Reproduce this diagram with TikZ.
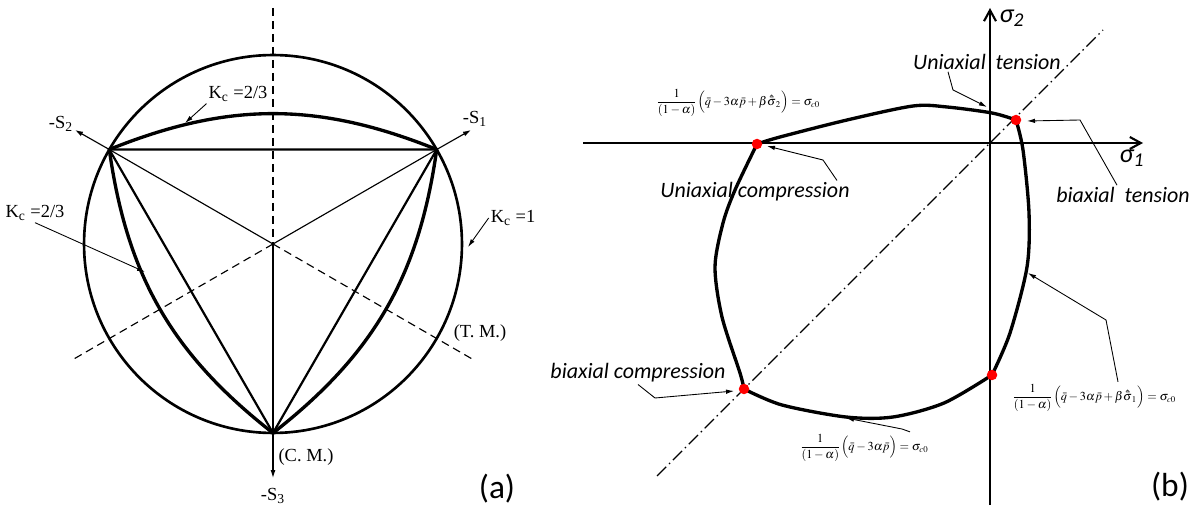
\documentclass[tikz,border=0pt]{standalone}
\usepackage{mathptmx}
\usepackage{fontspec}
\setmainfont{Liberation Serif}
\newfontfamily\carlito{Carlito}
\usetikzlibrary{arrows.meta}
\tikzset{
  rim/.style={line width=1.5pt},
  kcarc/.style={line width=1.9pt},
  edge/.style={line width=1.25pt},
  ray/.style={line width=0.65pt},
  hidden/.style={line width=0.65pt,dash pattern=on 1.6mm off 1mm},
  lead/.style={line width=0.5pt,-{Latex[length=1.6mm,width=0.9mm]}},
  lbl/.style={font=\fontsize{10.5}{12}\selectfont,inner sep=1pt},
  tag/.style={font=\carlito\itshape\fontsize{12.5}{14}\selectfont,inner sep=1pt},
  eqn/.style={font=\scriptsize,inner sep=1pt},
  panel/.style={font=\carlito\fontsize{19}{20}\selectfont,inner sep=0pt},
  yield/.style={line width=1.9pt,line join=round,line cap=round},
  reddot/.style={circle,fill=red,inner sep=0pt,minimum size=2.1mm},
  axis/.style={line width=1.2pt,-{Straight Barb[length=2.2mm,width=2.4mm]}},
  diag/.style={line width=0.75pt,dash pattern=on 2.6mm off 0.8mm on 0.3mm off 0.8mm}
}

\begin{document}
\begin{tikzpicture}[x=0.02cm,y=-0.02cm]
\useasboundingbox (0,0) rectangle (1202,509);
% (a) deviatoric section
\coordinate (o) at (273,244);
\coordinate (s1) at (436.7,149.5);
\coordinate (s2) at (109.3,149.5);
\coordinate (s3) at (273,433);
\coordinate (dtop) at (273,8);
\coordinate (dleft) at (74.7,358.5);
\coordinate (dright) at (471.3,358.5);
\coordinate (t1) at (471,130);
\coordinate (t2) at (75,130);
\coordinate (t3) at (273,478);
\draw[rim] (o) circle[radius=3.78cm];
\draw[hidden] (dtop) -- (o);
\draw[hidden] (o) -- (dleft);
\draw[hidden] (o) -- (dright);
\draw[ray] (o) -- (s1);
\draw[ray] (o) -- (s2);
\draw[ray] (o) -- (s3);
\draw[edge] (s2) -- (s1) -- (s3) -- cycle;
\draw[kcarc] (s1) to[bend right=22] (s2) to[bend right=22] (s3) to[bend right=22] (s1);
\draw[ray,-{Latex[length=1.6mm,width=1mm]}] (s1) -- (t1);
\draw[ray,-{Latex[length=1.6mm,width=1mm]}] (s2) -- (t2);
\draw[ray,-{Latex[length=1.6mm,width=1mm]}] (s3) -- (t3);
\node[lbl] (ms1) at (475,119) {-S\textsubscript{1}};
\node[lbl] (ms2) at (61,124) {-S\textsubscript{2}};
\node[lbl] (ms3) at (273,496) {-S\textsubscript{3}};
\node[lbl] (cm) at (306,457) {(C. M.)};
\node[lbl] (tm) at (480,333) {(T. M.)};
\node[lbl] (kct) at (238,94) {K\textsubscript{c} =2/3};
\node[lbl] (kcl) at (35,213) {K\textsubscript{c} =2/3};
\node[lbl] (kcr) at (513,218) {K\textsubscript{c} =1};
\coordinate (akt) at (185,123);
\coordinate (akl) at (145,272);
\coordinate (akr) at (468,247);
\draw[lead] (kct.south west) -- (akt);
\draw[lead] (kcl.south) -- (akl);
\draw[lead] (kcr.west) -- (akr);
\node[panel] (capa) at (497,489) {(a)};
% (b) principal stress plane
\coordinate (xl) at (583,143);
\coordinate (xr) at (1143,143);
\coordinate (yb) at (990,505);
\coordinate (yt) at (990,8);
\coordinate (dl) at (657,476);
\coordinate (dr) at (1103,30);
\draw[axis] (xl) -- (xr);
\draw[axis] (yb) -- (yt);
\draw[diag] (dl) -- (dr);
\draw[yield] plot[smooth] coordinates {(757,144) (780,137) (847,120) (913,106) (947,107) (992,113) (1016,120)};
\draw[yield] plot[smooth] coordinates {(1016,120) (1023,150) (1029,213) (1027,267) (1010,333) (992,375)};
\draw[yield] plot[smooth] coordinates {(744,389) (782,405) (846,417) (893,417) (944,403) (992,375)};
\draw[yield] plot[smooth] coordinates {(744,389) (740,373) (722,317) (715,267) (723,223) (735,190) (757,144)};
\node[reddot] (puc) at (757,144) {};
\node[reddot] (pbt) at (1016,120) {};
\node[reddot] (pbc) at (744,389) {};
\node[reddot] (puc2) at (992,375) {};
\node[font=\carlito\itshape\fontsize{15}{16}\selectfont] (sig2) at (1012,18) {σ\textsubscript{2}};
\node[font=\carlito\itshape\fontsize{15}{16}\selectfont] (sig1) at (1132,158) {σ\textsubscript{1}};
\node[tag] (ut) at (987,62) {Uniaxial\ \ tension};
\node[tag] (bt) at (1123,195) {biaxial\ \ tension};
\node[tag] (uc) at (755,192) {Uniaxial compression};
\node[tag] (bc) at (638,373) {biaxial compression};
\node[eqn] (eq2) at (738,103) {$\displaystyle\frac{1}{(1-\alpha)}\Bigl(\bar q-3\alpha\bar p+\beta\hat{\bar\sigma}_2\Bigr)=\sigma_{c0}$};
\node[eqn] (eq1) at (1094,398) {$\displaystyle\frac{1}{(1-\alpha)}\Bigl(\bar q-3\alpha\bar p+\beta\hat{\bar\sigma}_1\Bigr)=\sigma_{c0}$};
\node[eqn] (eq0) at (864,448) {$\displaystyle\frac{1}{(1-\alpha)}\Bigl(\bar q-3\alpha\bar p\Bigr)=\sigma_{c0}$};
\coordinate (aut) at (987,107);
\coordinate (abt) at (1027,121);
\coordinate (auc) at (767,146);
\coordinate (abc) at (734,391);
\coordinate (aeq0) at (846,418);
\coordinate (aeq1) at (1028,273);
\draw[lead] ([xshift=-0.78cm]ut.south) -- (953,90) -- (aut);
\draw[lead] ([xshift=-0.12cm]bt.north) -- (1080,120) -- (abt);
\draw[lead] ([xshift=1.64cm]uc.north) -- (823,160) -- (auc);
\draw[lead] (bc.south) -- (655,398) -- (abc);
\draw[lead] ([xshift=0.92cm]eq0.north) -- (902,429) -- (aeq0);
\draw[lead] ([xshift=0.48cm]eq1.north) -- (1106,320) -- (aeq1);
\node[panel] (capb) at (1170,487) {(b)};
\end{tikzpicture}
\end{document}
